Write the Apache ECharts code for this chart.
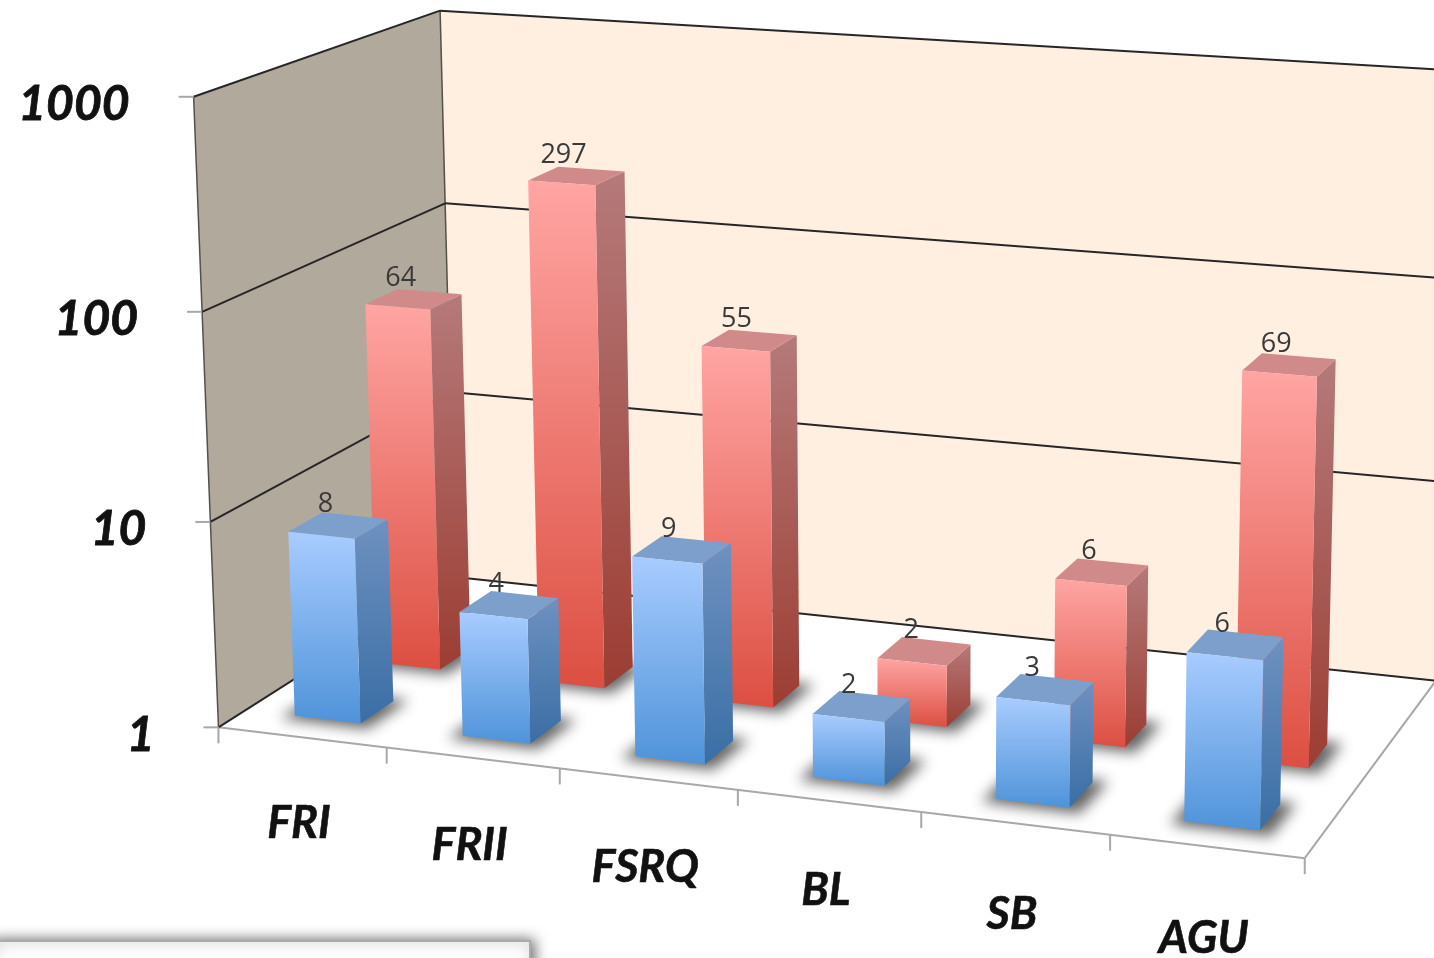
<!DOCTYPE html>
<html>
<head>
<meta charset="utf-8">
<style>html,body{margin:0;padding:0;background:#fff}#chart{width:1434px;height:958px}</style>
<script src="https://cdn.jsdelivr.net/npm/echarts@6/dist/echarts.min.js"></script>
</head>
<body>
<div id="chart"></div>
<script>
// Source counts per class on a log axis, front row and back row
const categories = ['FRI', 'FRII', 'FSRQ', 'BL', 'SB', 'AGU'];
const frontRow = [8, 4, 9, 2, 3, 6];
const backRow = [64, 297, 55, 2, 6, 69];
const yTicks = [1, 10, 100, 1000];

const W = 1434, H = 958;

// Reference points of the box: [across, depth, height] -> screen position
const boxAnchors = [
  [0, 0, 0, 218, 725], [1, 0, 0, 1305, 858], [0, 1, 0, 455, 578], [1, 1, 0, 1436, 679],
  [0, 0, 1, 193, 97], [0, 1, 1, 440, 10], [1, 1, 1, 1453, 71],
  [0, 0, 1 / 3, 211, 521], [0, 0, 2 / 3, 203, 312],
  [0, 1, 1 / 3, 450, 393], [0, 1, 2 / 3, 445, 203],
  [1 / 6, 0, 0, 387, 748], [2 / 6, 0, 0, 559, 770], [3 / 6, 0, 0, 738, 790],
  [4 / 6, 0, 0, 921, 813], [5 / 6, 0, 0, 1110, 835]
];

// Least squares fit of the 3x4 perspective camera to the reference points
function fitCamera(anchors) {
  const rows = [], rhs = [];
  anchors.forEach(([u, d, h, x, y]) => {
    const sx = x / 1000, sy = y / 1000;
    rows.push([u, d, h, 1, 0, 0, 0, 0, -sx * u, -sx * d, -sx * h]); rhs.push(sx);
    rows.push([0, 0, 0, 0, u, d, h, 1, -sy * u, -sy * d, -sy * h]); rhs.push(sy);
  });
  const n = 11, A = [];
  for (let i = 0; i < n; i++) {
    A.push(new Array(n + 1).fill(0));
    for (let j = 0; j < n; j++) rows.forEach(r => { A[i][j] += r[i] * r[j]; });
    rows.forEach((r, k) => { A[i][n] += r[i] * rhs[k]; });
  }
  for (let c = 0; c < n; c++) {
    let p = c;
    for (let r = c + 1; r < n; r++) if (Math.abs(A[r][c]) > Math.abs(A[p][c])) p = r;
    [A[c], A[p]] = [A[p], A[c]];
    for (let r = 0; r < n; r++) {
      if (r === c) continue;
      const f = A[r][c] / A[c][c];
      for (let k = c; k <= n; k++) A[r][k] -= f * A[c][k];
    }
  }
  return A.map((row, i) => row[n] / row[i]);
}
const cam = fitCamera(boxAnchors);

function project(u, d, h) {
  const w = cam[8] * u + cam[9] * d + cam[10] * h + 1;
  return [
    1000 * (cam[0] * u + cam[1] * d + cam[2] * h + cam[3]) / w,
    1000 * (cam[4] * u + cam[5] * d + cam[6] * h + cam[7]) / w
  ];
}

// Turn a data value into box coordinates through the hidden axes
const toU = (api, i) => api.coord([i, 1])[0] / W;
const toH = (api, v) => (H - api.coord([0, v])[1]) / H;

const TICK_FONT = 'italic bold 48px Lato, sans-serif';
const CATEGORY_FONT = 'italic bold 45px Lato, sans-serif';
const VALUE_FONT = '27px "Open Sans", sans-serif';
const BAR_WIDTH = 0.395 / categories.length;
const SHADOW_SHIFT = 3000;

const grad = (a, b) => new echarts.graphic.LinearGradient(0, 0, 0, 1, [
  { offset: 0, color: a }, { offset: 1, color: b }
]);

const line = (a, b, stroke, lineWidth) => ({
  type: 'line',
  shape: { x1: a[0], y1: a[1], x2: b[0], y2: b[1] },
  style: { stroke, lineWidth }
});
const poly = (points, style) => ({ type: 'polygon', shape: { points }, style });

function renderBox() {
  const corner = project;
  return {
    type: 'group',
    children: [
      poly([corner(0, 1, 0), corner(1, 1, 0), corner(1, 1, 1), corner(0, 1, 1)], { fill: '#FEEFE1' }),
      poly([corner(0, 0, 0), corner(0, 1, 0), corner(0, 1, 1), corner(0, 0, 1)], { fill: '#B2A99D' }),
      poly([corner(0, 0, 0), corner(1, 0, 0), corner(1, 1, 0), corner(0, 1, 0)], { fill: '#FFFFFF' }),
      line(corner(0, 0, 0), corner(0, 0, 1), '#55504a', 1.5),
      line(corner(0, 1, 0), corner(0, 1, 1), '#55504a', 1.5),
      line(corner(1, 1, 0), corner(1, 1, 1), '#777777', 1.5),
      line(corner(0, 0, 0), corner(1, 0, 0), '#A8A8A8', 2),
      line(corner(1, 0, 0), corner(1, 1, 0), '#A8A8A8', 2)
    ]
  };
}

function renderGridLine(params, api) {
  const v = api.value(1);
  const h = toH(api, v);
  const a = project(0, 0, h), b = project(0, 1, h), c = project(1, 1, h);
  return {
    type: 'group',
    children: [
      line(a, b, '#262626', 2),
      line(b, c, '#262626', 2),
      line([a[0] - 15, a[1]], a, '#A8A8A8', 2),
      {
        type: 'text', x: a[0] - 64, y: a[1] + 8,
        style: { text: String(v), font: TICK_FONT, fill: '#111', stroke: '#111', lineWidth: 0.8, align: 'right', verticalAlign: 'middle' }
      }
    ]
  };
}

function renderCategory(params, api) {
  const i = api.value(0);
  const band = 1 / categories.length;
  const u = toU(api, i);
  const tick = project(u + band / 2, 0, 0);
  const mid = project(u, 0, 0);
  const origin = project(0, 0, 0);
  return {
    type: 'group',
    children: [
      line(tick, [tick[0], tick[1] + 16], '#A8A8A8', 2),
      i === 0 ? line(origin, [origin[0], origin[1] + 16], '#A8A8A8', 2) : null,
      {
        type: 'text', x: mid[0] - 3, y: mid[1] + 86 + i * 1.2,
        style: { text: categories[i], font: CATEGORY_FONT, fill: '#111', stroke: '#111', lineWidth: 0.6, align: 'center', verticalAlign: 'middle' }
      }
    ].filter(Boolean)
  };
}

// One perspective bar: soft floor shadow, front, side and top faces, value above
function barRenderer(d0, d1, look) {
  return function (params, api) {
    const i = api.value(0), v = api.value(1);
    const u = toU(api, i) - 0.001, h = toH(api, v);
    const u0 = u - BAR_WIDTH / 2, u1 = u + BAR_WIDTH / 2;
    const fl = project(u0, d0, 0), fr = project(u1, d0, 0), br = project(u1, d1, 0), bl = project(u0, d1, 0);
    const tfl = project(u0, d0, h), tfr = project(u1, d0, h), tbr = project(u1, d1, h), tbl = project(u0, d1, h);
    const cx = (tfl[0] + tfr[0] + tbr[0] + tbl[0]) / 4, cy = (tfl[1] + tfr[1] + tbr[1] + tbl[1]) / 4;
    // The caster sits off canvas so only its blurred shadow lands on the floor
    const caster = [
      project(u0 - 0.009, d0 - 0.022, 0), project(u1 + 0.012, d0 - 0.022, 0),
      project(u1 + 0.012, d1 + 0.015, 0), project(u0 - 0.009, d1 + 0.015, 0)
    ].map(p => [p[0] - SHADOW_SHIFT, p[1]]);
    return {
      type: 'group',
      children: [
        poly(caster, {
          fill: '#000', shadowBlur: 14, shadowColor: 'rgba(60,60,60,0.8)', shadowOffsetX: SHADOW_SHIFT, shadowOffsetY: 0
        }),
        poly([fr, br, tbr, tfr], { fill: grad(look.sideTop, look.sideBottom) }),
        poly([tfl, tfr, tbr, tbl], { fill: look.top }),
        poly([fl, fr, tfr, tfl], { fill: grad(look.frontTop, look.frontBottom) }),
        {
          type: 'text', x: cx - 13, y: cy - 21,
          style: { text: String(v), font: VALUE_FONT, fill: '#3a3a3a', align: 'center', verticalAlign: 'middle' }
        }
      ]
    };
  };
}

const redLook = { frontTop: '#FFA5A3', frontBottom: '#DC4F42', sideTop: '#B57A7A', sideBottom: '#9C3D33', top: '#D18A8A' };
const blueLook = { frontTop: '#A8CCFF', frontBottom: '#4F93D9', sideTop: '#6E91C0', sideBottom: '#3A6EA5', top: '#7C9FCB' };

const pairs = values => values.map((v, i) => [i, v]);

const chart = echarts.init(document.getElementById('chart'), null, { renderer: 'canvas' });
chart.setOption({
  animation: false,
  backgroundColor: '#ffffff',
  grid: { left: 0, right: 0, top: 0, bottom: 0 },
  xAxis: { type: 'category', data: categories, show: false },
  yAxis: { type: 'log', logBase: 10, min: 1, max: 1000, show: false },
  series: [
    { type: 'custom', name: 'box', coordinateSystem: 'cartesian2d', clip: false, silent: true, z: 1, renderItem: renderBox, data: [[0, 1]], encode: { x: 0, y: 1 } },
    { type: 'custom', name: 'gridlines', coordinateSystem: 'cartesian2d', clip: false, silent: true, z: 2, renderItem: renderGridLine, data: yTicks.map(v => [0, v]), encode: { x: 0, y: 1 } },
    { type: 'custom', name: 'categories', coordinateSystem: 'cartesian2d', clip: false, silent: true, z: 2, renderItem: renderCategory, data: categories.map((c, i) => [i, 1]), encode: { x: 0, y: 1 } },
    { type: 'custom', name: 'Back row', coordinateSystem: 'cartesian2d', clip: false, silent: true, z: 3, renderItem: barRenderer(0.44, 0.575, redLook), data: pairs(backRow), encode: { x: 0, y: 1 } },
    { type: 'custom', name: 'Front row', coordinateSystem: 'cartesian2d', clip: false, silent: true, z: 4, renderItem: barRenderer(0.105, 0.24, blueLook), data: pairs(frontRow), encode: { x: 0, y: 1 } }
  ],
  graphic: [{
    type: 'rect', z: 10, silent: true,
    shape: { x: -10, y: 941, width: 540, height: 40 },
    style: { fill: '#fff', stroke: '#ABABAB', lineWidth: 2, shadowBlur: 14, shadowColor: 'rgba(0,0,0,0.6)', shadowOffsetX: 3, shadowOffsetY: 0 }
  }]
});
</script>
</body>
</html>
